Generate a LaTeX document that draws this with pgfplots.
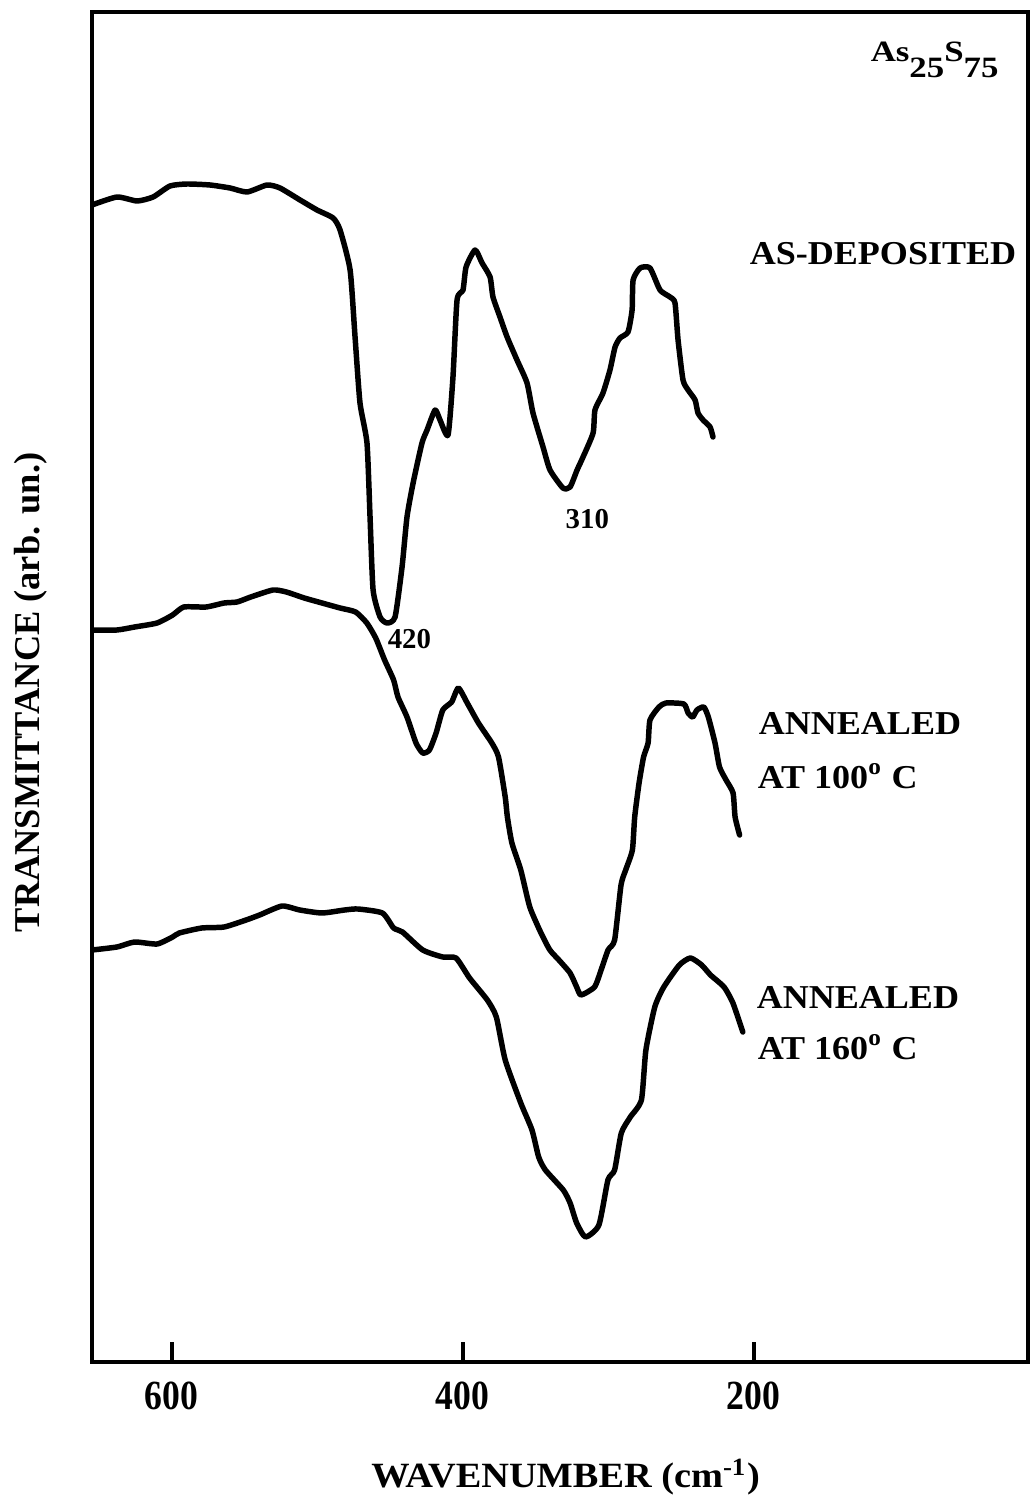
\documentclass[border=0pt]{standalone}
\usepackage{fontspec}
\setmainfont{Liberation Serif}
\newfontfamily\widefont{Liberation Serif}[FakeStretch=1.08]
\newfontfamily\narrowfont{Liberation Serif}[FakeStretch=0.86]
\usepackage{pgfplots}
\pgfplotsset{compat=1.18}
\tikzset{
  spectrum/.style={black, mark=none, line width=1.56pt, line join=round,
    line cap=round, smooth, tension=0.35},
  lbl/.style={anchor=base west, inner sep=0pt,
    font=\widefont\bfseries\fontsize{9.5}{11}\selectfont},
  peak/.style={anchor=base west, inner sep=0pt,
    font=\bfseries\fontsize{8.2}{10}\selectfont},
}

\begin{document}
\begin{tikzpicture}
\path[use as bounding box] (0,0) rectangle (10.35cm,14.97cm);
\begin{axis}[
  at={(0.92cm,1.35cm)}, anchor=south west,
  scale only axis, width=9.36cm, height=13.50cm,
  x dir=reverse, xmin=11.5, xmax=654.8,
  ymin=-2, ymax=1348,
  axis line style={line width=1.4pt},
  xtick={200,400,600}, xticklabels={200,400,600}, ytick=\empty,
  xtick pos=left, tick align=inside, major tick length=0.2cm,
  tick style={line width=1.1pt, black},
  xticklabel style={font=\narrowfont\bfseries\fontsize{11.8}{12}\selectfont,
    inner sep=0pt, anchor=north, yshift=-0.19cm},
  xlabel={WAVENUMBER (cm\textsuperscript{-1})},
  xlabel style={font=\widefont\bfseries\fontsize{10.1}{12}\selectfont,
    at={(axis description cs:0.506,-0.0933)}, anchor=base, inner sep=0pt},
  ylabel={TRANSMITTANCE (arb. un.)},
  ylabel style={font=\bfseries\fontsize{10.35}{12}\selectfont,
    at={(axis description cs:-0.0556,0.496)}, anchor=base, inner sep=0pt},
]
% as-deposited film
\addplot[spectrum] coordinates {
(654.8,1155) (637.6,1163) (623.8,1159) (612.8,1163) (601.2,1174) (589.5,1176)
(573.7,1175) (559.9,1172) (548.2,1168) (534.5,1175) (525.6,1172) (511.8,1160)
(500.1,1150) (489.1,1142) (484.3,1130) (477.4,1090) (474.0,1023) (470.6,957)
(465.8,917) (463.7,843) (461.6,770) (456.8,743) (452.0,737) (446.5,743)
(441.7,793) (438.3,843) (434.1,877) (428.0,917) (424.5,930) (419.0,950)
(415.6,940) (410.1,925) (406.7,983) (403.9,1060) (399.8,1070) (397.7,1093)
(391.5,1110) (386.7,1097) (381.2,1083) (379.2,1063) (374.4,1043) (369.5,1023)
(362.7,1000) (355.8,977) (351.7,947) (344.8,913) (340.0,890) (331.1,872)
(326.2,873) (321.4,890) (317.3,903) (310.4,927) (309.1,950) (303.6,967)
(298.8,990) (295.3,1013) (291.9,1022) (286.4,1028) (283.6,1050) (282.9,1080)
(278.1,1092) (271.3,1092) (264.4,1070) (257.5,1063) (254.1,1057) (252.0,1020)
(248.6,980) (245.1,970) (240.3,960) (238.3,947) (234.8,940) (230.0,933) (228.0,923)
};
% annealed at 100 C
\addplot[spectrum] coordinates {
(654.8,730) (637.7,730) (625.5,733) (610.1,737) (599.4,745) (591.7,753)
(576.4,753) (564.0,757) (555.1,758) (545.7,763) (530.4,770) (521.2,768)
(508.9,762) (496.7,757) (484.3,752) (473.6,748) (465.9,737) (459.8,722)
(453.7,700) (447.5,680) (444.5,663) (438.3,643) (432.1,617) (427.5,607)
(422.9,610) (418.3,627) (413.7,650) (407.6,658) (403.0,672) (396.9,657)
(389.2,637) (380.0,617) (375.4,603) (370.8,563) (369.3,543) (366.2,517)
(360.1,490) (353.9,453) (346.2,427) (340.1,410) (333.9,400) (326.2,387)
(321.7,373) (318.7,365) (309.4,373) (304.9,390) (300.1,410) (295.6,420)
(291.2,475) (288.0,490) (283.4,510) (281.8,543) (278.8,577) (275.7,603)
(272.6,617) (271.3,640) (265.1,653) (260.3,657) (248.0,656) (245.1,647)
(241.9,643) (239.0,650) (234.3,653) (231.2,643) (226.6,617) (223.5,593)
(219.0,580) (214.2,567) (212.8,543) (209.7,525)
};
% annealed at 160 C
\addplot[spectrum] coordinates {
(654.8,410) (637.7,413) (625.5,418) (610.1,416) (599.4,423) (594.8,427)
(579.4,432) (564.0,433) (548.9,440) (539.6,445) (524.2,454) (512.0,450)
(496.7,447) (481.2,450) (472.0,451) (455.2,447) (447.5,432) (441.4,428)
(427.5,410) (413.7,403) (404.6,402) (395.3,382) (383.1,360) (376.9,343)
(370.8,300) (360.1,257) (352.4,230) (347.8,203) (343.2,190) (330.9,170)
(326.2,157) (321.7,137) (315.6,123) (306.4,135) (300.2,180) (295.6,190)
(291.0,227) (284.8,243) (277.2,260) (274.1,310) (268.0,353) (261.8,373)
(251.1,395) (243.5,402) (235.8,395) (229.7,385) (220.4,373) (214.3,357) (207.5,328)
};
\node[anchor=base west, inner sep=0pt, font=\bfseries\fontsize{8.4}{10}\selectfont]
  at (axis cs:120.05,1298)
  {\scalebox{1.18}[1]{As\raisebox{-0.16cm}{25}S\raisebox{-0.16cm}{75}}};
\node[lbl] at (axis cs:203.2,1095) {AS-DEPOSITED};
\node[lbl] at (axis cs:197.0,625) {ANNEALED};
\node[lbl] at (axis cs:197.7,572) {AT 100\textsuperscript{o} C};
\node[lbl] at (axis cs:198.4,352) {ANNEALED};
\node[lbl] at (axis cs:197.7,301) {AT 160\textsuperscript{o} C};
\node[peak] at (axis cs:452.0,712) {420};
\node[peak] at (axis cs:329.7,832) {310};
\end{axis}
\end{tikzpicture}
\end{document}
